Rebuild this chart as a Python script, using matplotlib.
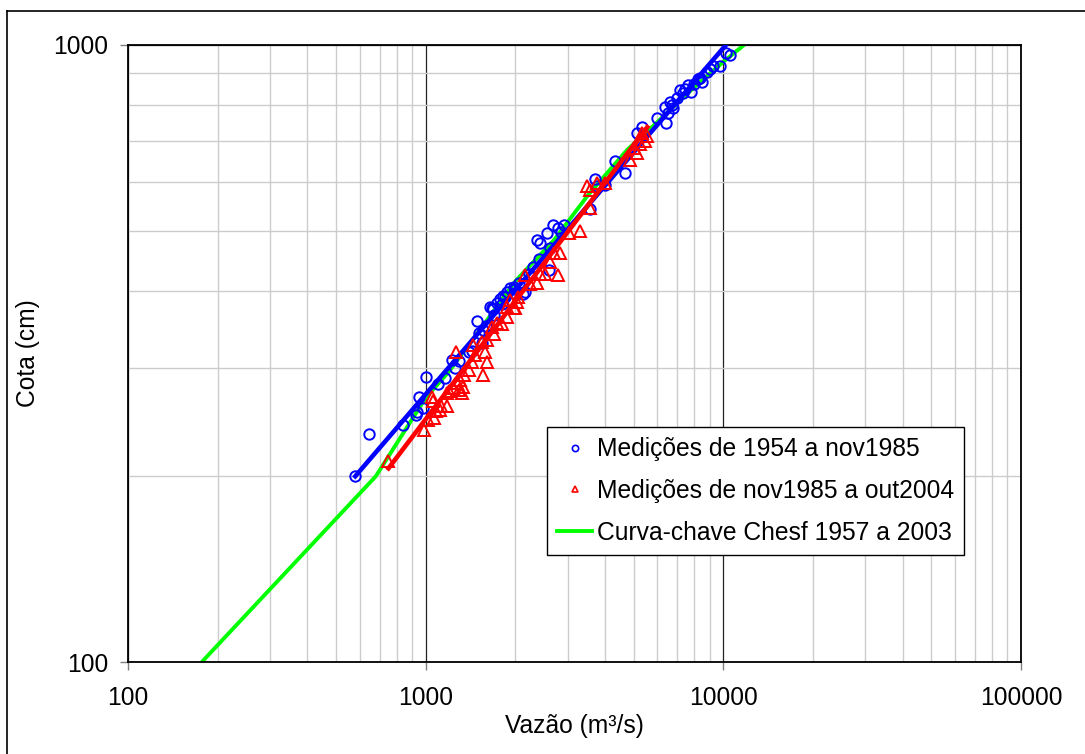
import matplotlib
matplotlib.use("Agg")
import matplotlib.pyplot as plt
from matplotlib.lines import Line2D
from matplotlib.ticker import FixedLocator, FixedFormatter, LogLocator, NullFormatter

plt.rcParams['font.family'] = ['Liberation Sans', 'DejaVu Sans']

# ---- data ----
blue_q = [580, 645, 839, 928, 950, 979, 935, 1000, 1162, 1225, 1290, 1398, 1430, 1486, 1510,
          1545, 1600, 1644, 1680, 1778, 1740, 1800, 1850, 1976, 2120, 1671, 1820, 1919, 1976,
          2058, 2158, 2294, 2421, 2557, 2595, 2679, 2775, 2916, 2620, 2850, 3565, 3706, 3770,
          4000, 4327, 4674, 5130, 5330, 5985, 6410, 6360, 6620, 6770, 7140, 7310, 7600, 7800,
          8000, 8350, 8450, 8810, 9000, 9200, 9750, 10200, 10500, 1700, 1560, 1880, 2000, 2220,
          6700, 7000, 7450, 8200, 6500, 1250, 1100, 2400, 2367]
blue_h = [200, 234, 242, 251, 269, 258, 254, 290, 289, 309, 308, 318, 319, 357, 341,
          329, 351, 376, 374, 387, 382, 380, 390, 396, 395, 375, 392, 404, 406,
          411, 398, 437, 478, 495, 432, 511, 505, 511, 469, 498, 542, 607, 590,
          594, 649, 620, 720, 736, 762, 747, 793, 808, 790, 845, 837, 861, 839,
          866, 884, 872, 904, 915, 923, 923, 971, 964, 365, 345, 398, 402, 425,
          800, 820, 850, 880, 775, 300, 282, 450, 483]

red_q = [747, 990, 1058, 1015, 1070, 1130, 1180, 1180, 1240, 1275, 1330, 1260, 1050, 1290,
         1300, 1400, 1430, 1558, 1610, 1585, 1445, 1545, 1610, 1670, 1730, 1800, 1870, 1976,
         2020, 2050, 1320, 1200, 1870, 1995, 1920, 2160, 2367, 2421, 2520, 2775, 2620, 2836,
         3040, 3300, 3484, 3560, 3770, 4000, 3560, 4853, 5130, 5250, 5450, 5550, 5330, 1350,
         1120, 1460, 1700, 2250, 2700, 5000, 1080]
red_h = [212, 238, 265, 247, 249, 260, 260, 273, 278, 283, 279, 318, 269, 276,
         286, 297, 306, 292, 306, 318, 326, 330, 333, 349, 354, 353, 362, 375,
         383, 390, 273, 275, 376, 375, 386, 424, 411, 426, 426, 424, 445, 460,
         495, 500, 591, 582, 597, 598, 545, 651, 668, 690, 700, 712, 720, 292,
         256, 315, 340, 410, 460, 680, 255]

# fitted lines (end points)
blue_fit_q = [580, 10200]
blue_fit_h = [200, 1000]
red_fit_q = [750, 5550]
red_fit_h = [206, 736]

# Chesf rating curve
green_q = [177, 680, 1000, 1200, 1600, 2000, 2700, 3500, 4750, 6000, 8000, 10000, 12000]
green_h = [100, 200, 268, 296, 357, 414, 483, 570, 676, 750, 855, 939, 1009]

x_ticks = [100, 1000, 10000, 100000]
x_labels = ['100', '1000', '10000', '100000']
y_ticks = [100, 1000]
y_labels = ['100', '1000']

legend_labels = ['Medições de 1954 a nov1985', 'Medições de nov1985 a out2004',
                 'Curva-chave Chesf 1957 a 2003']

FS = 17.7

# ---- figure ----
W, H = 1085, 754
fig = plt.figure(figsize=(W / 100, H / 100), dpi=100)
ax = fig.add_axes([128 / W, 1 - 662 / H, (1021 - 128) / W, (662 - 45) / H])

ax.set_xscale('log')
ax.set_yscale('log')
ax.set_xlim(100, 100000)
ax.set_ylim(100, 1000)

# grids
ax.xaxis.set_minor_locator(LogLocator(base=10, subs=range(2, 10)))
ax.yaxis.set_minor_locator(LogLocator(base=10, subs=range(2, 10)))
ax.xaxis.set_minor_formatter(NullFormatter())
ax.yaxis.set_minor_formatter(NullFormatter())
ax.grid(which='minor', color='#cccccc', lw=1.0)
ax.grid(which='major', color='#222222', lw=0.9)
ax.set_axisbelow(True)

ax.xaxis.set_major_locator(FixedLocator(x_ticks))
ax.xaxis.set_major_formatter(FixedFormatter(x_labels))
ax.yaxis.set_major_locator(FixedLocator(y_ticks))
ax.yaxis.set_major_formatter(FixedFormatter(y_labels))
ax.tick_params(which='minor', length=0)
ax.tick_params(which='major', direction='out', length=6, width=1, color='#808080',
               labelsize=FS, labelcolor='black')
ax.tick_params(axis='x', pad=11)
ax.tick_params(axis='y', pad=8)

for s in ax.spines.values():
    s.set_color('black')
    s.set_linewidth(1.3)

# data
ax.plot(green_q, green_h, color='#00ff00', lw=2.8, zorder=2, solid_capstyle='butt')
ax.plot(blue_q, blue_h, linestyle='none', marker='o', ms=7.5, mfc='none', mec='#0000ff',
        mew=1.4, zorder=3)
ax.plot(blue_fit_q, blue_fit_h, color='#0000ff', lw=3.3, zorder=4)
ax.plot(red_q, red_h, linestyle='none', marker='^', ms=8, mfc='none', mec='#ff0000',
        mew=1.4, zorder=5)
ax.plot(red_fit_q, red_fit_h, color='#ff0000', lw=3.3, zorder=6)

ax.set_xlabel('Vazão (m³/s)', fontsize=FS, labelpad=3)
ax.set_ylabel('Cota (cm)', fontsize=FS, labelpad=10)

handles = [
    Line2D([], [], linestyle='none', marker='o', ms=4.5, mfc='none', mec='#0000ff', mew=1.2),
    Line2D([], [], linestyle='none', marker='^', ms=4.5, mfc='none', mec='#ff0000', mew=1.2),
    Line2D([], [], color='#00ff00', lw=2.8),
]
leg = ax.legend(handles, legend_labels, loc='upper left',
                bbox_to_anchor=((547 - 128) / 893, (662 - 427) / 617),
                borderaxespad=0, fontsize=FS, frameon=True, fancybox=False,
                edgecolor='black', framealpha=1, handlelength=1.4, handletextpad=0.2,
                borderpad=0.42, labelspacing=0.72)
leg.get_frame().set_linewidth(1.0)
leg.set_zorder(10)

# figure frame
fig.add_artist(Line2D([7 / W, 7 / W], [0, 1 - 11 / H], color='black', lw=1.2,
                      transform=fig.transFigure))
fig.add_artist(Line2D([7 / W, 1], [1 - 11 / H, 1 - 11 / H], color='black', lw=1.2,
                      transform=fig.transFigure))

fig.savefig('out.png', dpi=100)
